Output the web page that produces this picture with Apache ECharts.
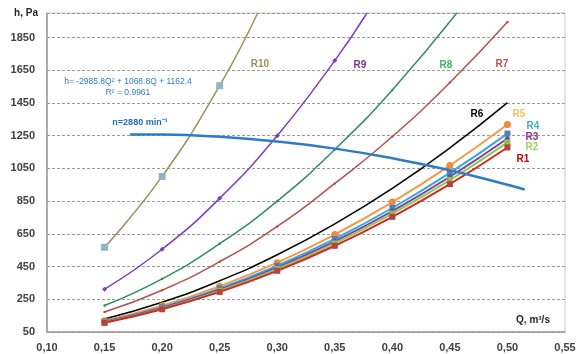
<!DOCTYPE html>
<html>
<head>
<meta charset="utf-8">
<script src="https://cdn.jsdelivr.net/npm/echarts@6/dist/echarts.min.js"></script>
<style>html,body{margin:0;padding:0;background:#fff;}#c{width:582px;height:354px;}</style>
</head>
<body>
<div id="c"></div>
<script>
// ---- data ----
const Q = [0.15, 0.20, 0.25, 0.30, 0.35, 0.40, 0.45, 0.50];
const R1 = [106, 189, 295, 424, 577, 754, 954, 1178];
const R2 = [109, 193, 302, 435, 592, 774, 979, 1209];
const R3 = [111, 197, 308, 444, 604, 789, 999, 1233];
const R4 = [114, 202, 316, 455, 619, 808, 1023, 1263];
const R5 = [119, 211, 330, 474, 646, 844, 1068, 1318];
const R6 = [130, 232, 363, 522, 711, 928, 1175, 1452];
const R7 = [172, 305, 480, 695, 958, 1245, 1575, 1945];
const Q8 = [0.15, 0.20, 0.25, 0.30, 0.35, 0.40, 0.456];
const R8 = [212, 375, 590, 850, 1166, 1530, 2000];
const Q9 = [0.15, 0.20, 0.25, 0.30, 0.35, 0.378];
const R9 = [312, 556, 867, 1250, 1709, 2000];
const Q10 = [0.15, 0.20, 0.25, 0.283];
const R10 = [568, 1001, 1556, 2000];
const fanQ = [0.172, 0.20, 0.25, 0.30, 0.35, 0.40, 0.45, 0.50, 0.515];
const fanH = [1258, 1257, 1243, 1214, 1171, 1112, 1039, 950, 921];
const xTicks = [0.10, 0.55, 0.05];   // min, max, step
const yTicks = [50, 2000, 200];      // min, max, step

function pts(qs, hs) {
  return qs.map((q, i) => {
    const item = { value: [q, hs[i]] };
    if (hs[i] >= 2000) item.symbol = 'none';
    return item;
  });
}

const chart = echarts.init(document.getElementById('c'), null, { renderer: 'canvas' });

function rs(name, qs, hs, color, width, symbol, size, mcolor) {
  return {
    name, type: 'line', smooth: true, data: pts(qs, hs),
    lineStyle: { color, width },
    symbol, symbolSize: size, showSymbol: symbol !== 'none',
    itemStyle: { color: mcolor || color, borderWidth: 0 },
    clip: true, z: 3
  };
}

const FF = 'Liberation Sans, Arial, sans-serif';
function txt(x, y, s, color, size, weight) {
  return { type: 'text', x, y, style: { text: s, fill: color, textAlign: 'center', textVerticalAlign: 'middle',
    fontFamily: FF, fontSize: size || 10, fontWeight: weight || 'bold' } };
}

chart.setOption({
  animation: false,
  backgroundColor: '#fff',
  grid: { left: 47, right: 17, top: 13, bottom: 22, show: true, borderColor: '#c8c8c8', borderWidth: 1, containLabel: false },
  xAxis: {
    type: 'value', min: xTicks[0], max: xTicks[1], interval: xTicks[2],
    axisLine: { show: true, lineStyle: { color: '#9a9a9a', width: 1.5 } },
    axisTick: { show: false },
    splitLine: { show: false },
    axisLabel: { margin: 10, color: '#404040', fontFamily: FF, fontWeight: 'bold', fontSize: 11,
      formatter: v => v.toFixed(2).replace('.', ',') }
  },
  yAxis: {
    type: 'value', min: yTicks[0], max: yTicks[1], interval: yTicks[2],
    axisLine: { show: true, lineStyle: { color: '#9a9a9a', width: 1.5 } },
    axisTick: { show: false },
    splitLine: { show: true, lineStyle: { color: '#9a9a9a', type: [3, 2], width: 1 } },
    axisLabel: { margin: 12, color: '#404040', fontFamily: FF, fontWeight: 'bold', fontSize: 11, showMaxLabel: false,
      formatter: v => String(Math.round(v)) }
  },
  series: [
    rs('R10', Q10, R10, '#9d8e5c', 1.5, 'rect', 7, '#8fb7c2'),
    rs('R9', Q9, R9, '#7c3fbf', 1.5, 'diamond', 5, '#7c3fbf'),
    rs('R8', Q8, R8, '#2f8f62', 1.5, 'circle', 2.5, '#2f8f62'),
    rs('R7', Q, R7, '#b95050', 1.5, 'circle', 2.5, '#b95050'),
    rs('R6', Q, R6, '#000000', 1.5, 'none', 0),
    rs('R5', Q, R5, '#f39a4a', 2, 'circle', 7, '#f08a3a'),
    rs('R4', Q, R4, '#3aa6dd', 2, 'rect', 6, '#4f81bd'),
    rs('R3', Q, R3, '#7a3fa8', 2, 'diamond', 6, '#7a3fa8'),
    rs('R2', Q, R2, '#92c74e', 2, 'rect', 6, '#8cc04a'),
    rs('R1', Q, R1, '#d02828', 2, 'rect', 6, '#b8423e'),
    {
      name: 'fan', type: 'line', smooth: true, data: fanQ.map((q, i) => [q, fanH[i]]),
      symbol: 'none', lineStyle: { color: '#2c7cc6', width: 2.5 }, z: 4
    }
  ],
  graphic: [
    txt(26, 13, 'h, Pa', '#262626'),
    txt(533, 320, 'Q, m³/s', '#262626'),
    txt(128, 82, 'h= -2985.8Q² + 1068.8Q + 1162.4', '#2c7cc6', 8.5, 'normal'),
    txt(128, 93, 'R² = 0.9961', '#2c7cc6', 8.5, 'normal'),
    txt(140, 123, 'n=2880 min⁻¹', '#1f6fbf', 9, 'bold'),
    txt(260, 64, 'R10', '#9d8e5c'),
    txt(360, 65, 'R9', '#7c2f9f'),
    txt(446, 65, 'R8', '#3cb45a'),
    txt(502, 64, 'R7', '#c0504d'),
    txt(477, 114, 'R6', '#000000'),
    txt(519, 114, 'R5', '#f5c060'),
    txt(533, 126, 'R4', '#4bacc6'),
    txt(532, 137, 'R3', '#8a2f9f'),
    txt(532, 147, 'R2', '#9bd35a'),
    txt(523, 159, 'R1', '#c00000')
  ]
});
</script>
</body>
</html>
